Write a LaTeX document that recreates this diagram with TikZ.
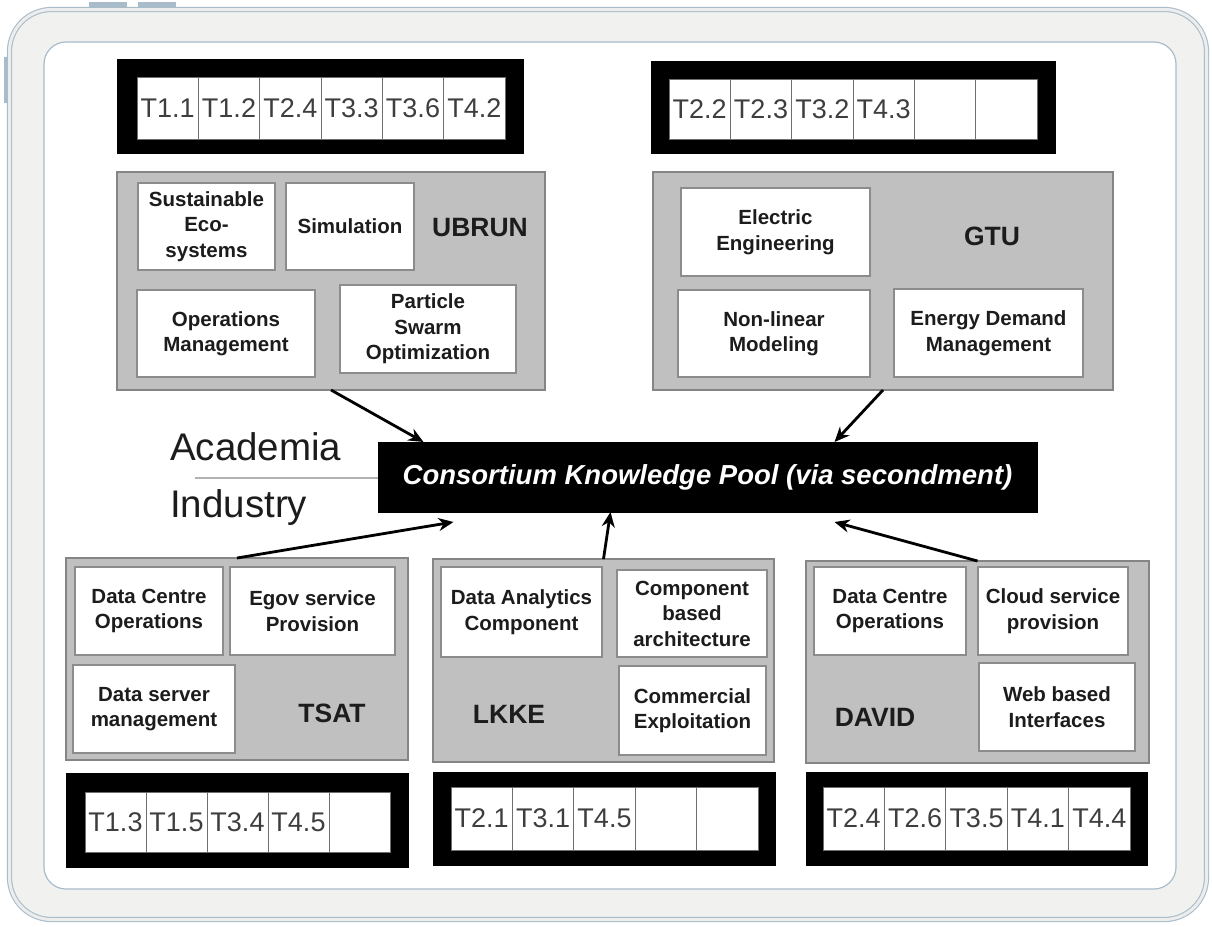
\documentclass[tikz,border=0pt]{standalone}
\usepackage{fontspec}
\setmainfont{Liberation Sans}
\usetikzlibrary{arrows.meta}
\definecolor{frameblue}{HTML}{A9BCCA}
\definecolor{framefill}{HTML}{F1F1F0}
\definecolor{boxgray}{HTML}{C0C0C0}
\definecolor{boxedge}{HTML}{858585}
\definecolor{itemedge}{HTML}{8C8C8C}
\definecolor{celledge}{HTML}{6E6E6E}
\definecolor{textdark}{HTML}{1C1C1C}
\newcommand{\itemfont}{\fontsize{20.5}{25.5}\selectfont\bfseries}
\newcommand{\orgfont}{\fontsize{26.5}{30}\selectfont\bfseries}
\newcommand{\cellfont}{\fontsize{27}{30}\selectfont}
\newcommand{\mkbox}[7][]{\node[#1, minimum width={((#4)-(#2))*1pt}, minimum height={((#5)-(#3))*1pt}] (#6) at ({((#2)+(#4))/2},{((#3)+(#5))/2}) {#7};}
\tikzset{
  bigbox/.style={fill=boxgray, draw=boxedge, line width=2pt, inner sep=0pt, outer sep=0pt},
  item/.style={fill=white, draw=itemedge, line width=1.5pt, align=center, font=\itemfont, text=textdark, inner sep=0pt, outer sep=0pt},
  org/.style={font=\orgfont, text=textdark, inner sep=0pt},
  bar/.style={fill=black, draw=black, inner sep=0pt, outer sep=0pt},
  cell/.style={fill=white, draw=celledge, line width=0.8pt, font=\cellfont, text=textdark!85!white, inner sep=0pt, outer sep=0pt},
  arr/.style={-{Stealth[length=15pt,width=13pt]}, line width=2.8pt, black},
  side/.style={font=\fontsize{38.5}{42}\selectfont, text=textdark, inner sep=0pt, anchor=base west}
}
\begin{document}
\begin{tikzpicture}[x=1pt,y=-1pt]
\useasboundingbox (0,0) rectangle (1212,926);
% frame
\fill[frameblue] (89,2) rectangle (127,7);
\fill[frameblue] (138,2) rectangle (176,7);
\fill[frameblue] (4,57) rectangle (8.5,103);
\draw[draw=frameblue, double=white!93!black, double distance=3pt, line width=1.1pt, fill=framefill, rounded corners=42pt] (9.5,9.5) rectangle (1206.5,919.5);
\draw[draw=frameblue, line width=1.2pt, fill=white, rounded corners=22pt] (44,42) rectangle (1176,889);

% top bars
\mkbox[bar]{117}{59}{523}{153}{barA}{}
\foreach \t [count=\i from 0] in {T1.1,T1.2,T2.4,T3.3,T3.6,T4.2}
  {\mkbox[cell]{137+\i*61.333}{77}{137+(\i+1)*61.333}{139}{barA\i}{\t}}
\mkbox[bar]{651}{61}{1055}{153}{barB}{}
\foreach \t [count=\i from 0] in {T2.2,T2.3,T3.2,T4.3,{},{}}
  {\mkbox[cell]{669+\i*61.333}{79}{669+(\i+1)*61.333}{139}{barB\i}{\t}}

% UBRUN
\mkbox[bigbox]{117}{172}{545}{390}{ubrun}{}
\mkbox[item]{138}{183}{275}{270}{sus}{Sustainable\\Eco-\\systems}
\mkbox[item]{286}{183}{414}{270}{sim}{Simulation}
\mkbox[item]{137}{290}{315}{377}{opm}{Operations\\Management}
\mkbox[item]{340}{285}{516}{373}{pso}{Particle\\Swarm\\Optimization}
\node[org] (ubrunlbl) at (480,228) {UBRUN};

% GTU
\mkbox[bigbox]{653}{172}{1113}{390}{gtu}{}
\mkbox[item]{681}{188}{870}{276}{ele}{Electric\\Engineering}
\mkbox[item]{678}{290}{870}{377}{nlm}{Non-linear\\Modeling}
\mkbox[item]{894}{289}{1083}{377}{edm}{Energy Demand\\Management}
\node[org] (gtulbl) at (992,236) {GTU};

% centre
\mkbox[bar]{378}{442}{1037}{512}{ckp}{}
\node[text=white, font=\fontsize{27.5}{30}\selectfont\bfseries\itshape, inner sep=0pt] (ckptxt) at (ckp.center) {Consortium Knowledge Pool (via secondment)};
\coordinate (lnstart) at (195,478);
\draw[gray!60, line width=1.5pt] (lnstart) -- (ckp.west |- lnstart);
\node[side] (acad) at (170,460) {Academia};
\node[side] (ind) at (170,517) {Industry};

% TSAT
\mkbox[bigbox]{66}{558}{408}{760}{tsat}{}
\mkbox[item]{75}{567}{223}{655}{dco1}{Data Centre\\Operations}
\mkbox[item]{230}{567}{395}{655}{egov}{Egov service\\Provision}
\mkbox[item]{73}{665}{235}{753}{dsm}{Data server\\management}
\node[org] (tsatlbl) at (332,713) {TSAT};
\mkbox[bar]{66}{773}{408}{867}{barC}{}
\foreach \t [count=\i from 0] in {T1.3,T1.5,T3.4,T4.5,{}}
  {\mkbox[cell]{85+\i*61}{792}{85+(\i+1)*61}{852}{barC\i}{\t}}

% LKKE
\mkbox[bigbox]{433}{559}{774}{762}{lkke}{}
\mkbox[item]{441}{567}{602}{657}{dac}{Data Analytics\\Component}
\mkbox[item]{617}{570}{767}{657}{cba}{Component\\based\\architecture}
\mkbox[item]{619}{666}{766}{755}{cex}{Commercial\\Exploitation}
\node[org] (lkkelbl) at (509,714) {LKKE};
\mkbox[bar]{433}{772}{775}{865}{barD}{}
\foreach \t [count=\i from 0] in {T2.1,T3.1,T4.5,{},{}}
  {\mkbox[cell]{451+\i*61.4}{787}{451+(\i+1)*61.4}{850}{barD\i}{\t}}

% DAVID
\mkbox[bigbox]{806}{561}{1149}{763}{david}{}
\mkbox[item]{814}{567}{966}{655}{dco2}{Data Centre\\Operations}
\mkbox[item]{978}{567}{1128}{655}{csp}{Cloud service\\provision}
\mkbox[item]{979}{663}{1135}{751}{wbi}{Web based\\Interfaces}
\node[org] (davidlbl) at (875,717) {DAVID};
\mkbox[bar]{806}{772}{1147}{865}{barE}{}
\foreach \t [count=\i from 0] in {T2.4,T2.6,T3.5,T4.1,T4.4}
  {\mkbox[cell]{823+\i*61.4}{787}{823+(\i+1)*61.4}{850}{barE\i}{\t}}

% arrows
\draw[arr] (ubrun.south) -- ([xshift=-284pt]ckp.north);
\draw[arr] (gtu.south) -- ([xshift=127pt]ckp.north);
\draw[arr] (tsat.north) -- ([xshift=-254pt,yshift=-10pt]ckp.south);
\draw[arr] (lkke.north) -- ([xshift=-97pt]ckp.south);
\draw[arr] (david.north) -- ([xshift=127pt,yshift=-10pt]ckp.south);
\end{tikzpicture}
\end{document}
